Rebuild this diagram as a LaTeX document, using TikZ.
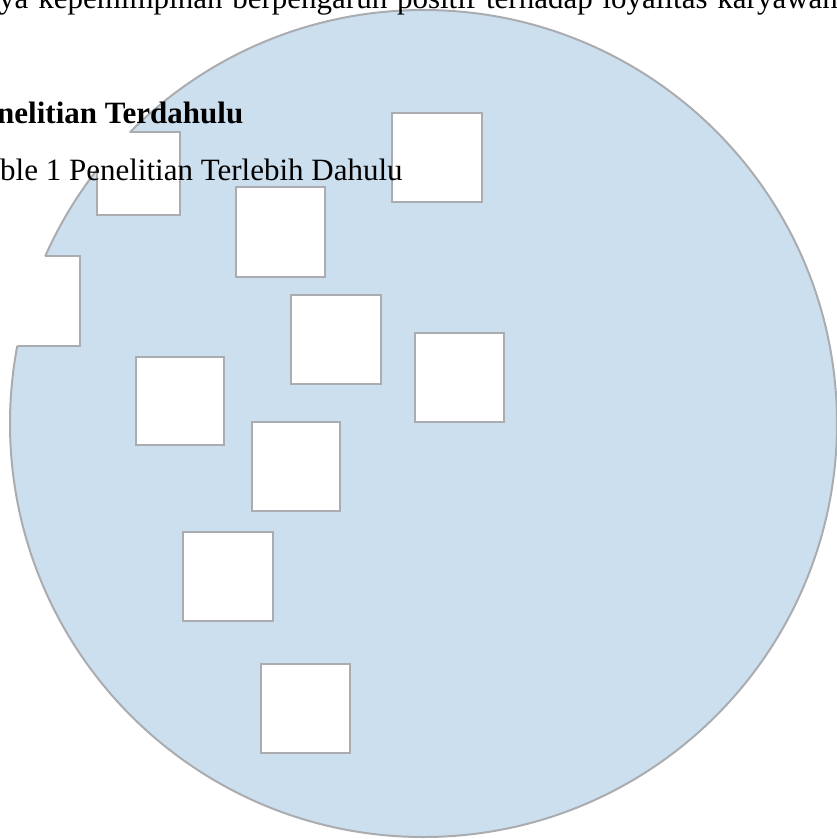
\documentclass[tikz,border=0pt]{standalone}
\usepackage{fontspec}
\setmainfont{Liberation Serif}
\definecolor{circfill}{RGB}{204,223,238}
\definecolor{edgegray}{RGB}{170,172,176}
\begin{document}
\begin{tikzpicture}[x=1pt,y=-1pt,
  edgeline/.style={draw=edgegray, line width=2pt},
  holefill/.style={fill=white},
  doctext/.style={anchor=base west, inner sep=0pt, text=black, font=\fontsize{31}{37}\selectfont}]
\useasboundingbox (0,0) rectangle (837,839);
% disc
\fill[circfill] (423.5,423.5) circle[radius=413.5];
\draw[edgeline] (423.5,423.5) circle[radius=413.5];
% white holes
\foreach \xa/\ya/\xb/\yb in {97/132/180/215, 236/187/325/277, 291/295/381/384, 392/113/482/202, 415/333/504/422, 136/357/224/445, 252/422/340/511, 183/532/273/621, 261/664/350/753, -9/256/80/346}{
  \fill[holefill] (\xa,\ya) rectangle (\xb,\yb);
}
\begin{scope}
  \clip (423.5,423.5) circle[radius=413.5];
  \foreach \xa/\ya/\xb/\yb in {97/132/180/215, 236/187/325/277, 291/295/381/384, 392/113/482/202, 415/333/504/422, 136/357/224/445, 252/422/340/511, 183/532/273/621, 261/664/350/753, -9/256/80/346}{
    \draw[edgeline] (\xa,\ya) rectangle (\xb,\yb);
  }
\end{scope}
% text
\node[doctext] (line1) at (-1,8.5) {\spaceskip=9.8pt\relax ya kepemimpinan berpengaruh positif terhadap loyalitas karyawan.};
\node[doctext, font=\fontsize{31}{37}\selectfont\bfseries] (line2) at (-3,123) {nelitian Terdahulu};
\node[doctext] (line3) at (0,180.5) {ble 1 Penelitian Terlebih Dahulu};
\end{tikzpicture}
\end{document}
